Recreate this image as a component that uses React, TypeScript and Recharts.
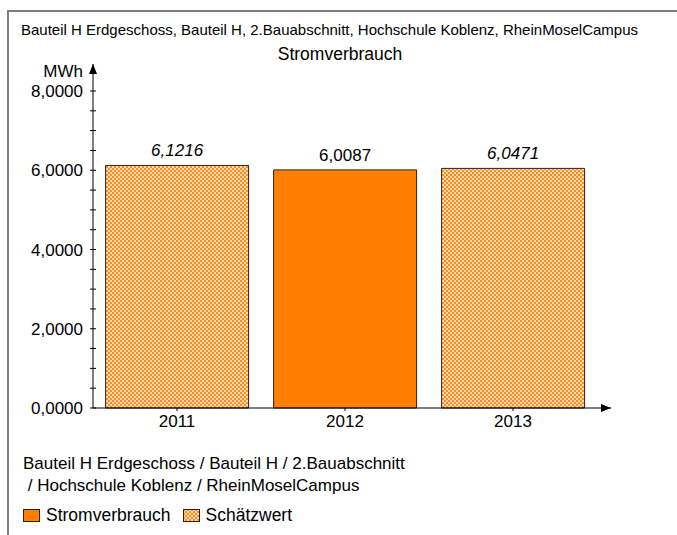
import { BarChart, Bar, XAxis, YAxis, Cell, LabelList } from "recharts";

const years = ["2011", "2012", "2013"];
const consumption = [6.1216, 6.0087, 6.0471];
const estimated = [true, false, true];
const yTicks = [0, 0.5, 1, 1.5, 2, 2.5, 3, 3.5, 4, 4.5, 5, 5.5, 6, 6.5, 7, 7.5, 8];
const labeledTicks = [0, 2, 4, 6, 8];

const headerText = "Bauteil H Erdgeschoss, Bauteil H, 2.Bauabschnitt, Hochschule Koblenz, RheinMoselCampus";
const chartTitle = "Stromverbrauch";
const unitLabel = "MWh";
const legendTitle = ["Bauteil H Erdgeschoss / Bauteil H / 2.Bauabschnitt", " / Hochschule Koblenz / RheinMoselCampus"];
const legendItems = [
  { name: "Stromverbrauch", estimated: false },
  { name: "Schätzwert", estimated: true },
];

const data = years.map((year, i) => ({ year, value: consumption[i], estimated: estimated[i] }));

const ORANGE = "#ff8000";
const FONT = "'Liberation Sans', Arial, sans-serif";
const fmt = (v: number) => v.toFixed(4).replace(".", ",");

function YTick(props: any) {
  const { x, y, payload } = props;
  const v = payload.value as number;
  const axisX = x + 10;
  return (
    <g>
      <line x1={axisX - 3} x2={axisX + 3} y1={y} y2={y} stroke="#000" />
      {labeledTicks.includes(v) && (
        <text x={x} y={y} dy={6} textAnchor="end" fontSize={17} fill="#000" fontFamily={FONT}>
          {fmt(v)}
        </text>
      )}
    </g>
  );
}

function ValueLabel(props: any) {
  const { x, y, width, value, index } = props;
  const i = typeof index === "number" ? index : consumption.indexOf(value);
  return (
    <text
      x={x + width / 2}
      y={y - 9}
      textAnchor="middle"
      fontSize={17}
      fontStyle={estimated[i] ? "italic" : "normal"}
      fill="#000"
      fontFamily={FONT}
    >
      {fmt(value)}
    </text>
  );
}

function Swatch({ hatched }: { hatched: boolean }) {
  return (
    <svg width={17} height={13} style={{ display: "block" }}>
      <defs>
        <pattern id={"sw" + (hatched ? "h" : "s")} width={4} height={4} patternUnits="userSpaceOnUse">
          <rect width={4} height={4} fill="#ffdcb4" />
          <rect width={2} height={2} fill="#ff8c1a" />
          <rect x={2} y={2} width={2} height={2} fill="#ff8c1a" />
        </pattern>
      </defs>
      <rect x={0.5} y={0.5} width={16} height={12} fill={hatched ? "url(#swh)" : ORANGE} stroke="#222" />
    </svg>
  );
}

export default function App() {
  return (
    <div style={{ position: "absolute", left: 0, top: 0, width: 677, height: 535, background: "#fff", fontFamily: FONT, overflow: "hidden" }}>
      <div style={{ position: "absolute", left: 7, top: 10, width: 700, height: 560, borderTop: "2px solid #7f7f7f", borderLeft: "2px solid #7f7f7f" }} />
      <div style={{ position: "absolute", left: 21, top: 21, fontSize: 15, lineHeight: "18px", whiteSpace: "nowrap" }}>{headerText}</div>
      <div style={{ position: "absolute", left: 0, width: 680, top: 44, fontSize: 17.5, lineHeight: "20px", textAlign: "center" }}>{chartTitle}</div>
      <div style={{ position: "absolute", right: 677 - 83, top: 62, fontSize: 17, lineHeight: "20px" }}>{unitLabel}</div>

      <BarChart
        width={677}
        height={535}
        data={data}
        margin={{ top: 64, right: 66, bottom: 97, left: 13 }}
        barCategoryGap="7.5%"
        style={{ position: "absolute", left: 0, top: 0 }}
      >
        <defs>
          <pattern id="checker" width={4} height={4} patternUnits="userSpaceOnUse">
            <rect width={4} height={4} fill="#ffdcb4" />
            <rect width={2} height={2} fill="#ff8c1a" />
            <rect x={2} y={2} width={2} height={2} fill="#ff8c1a" />
          </pattern>
          <marker id="arrowX" viewBox="0 0 10 8" refX={10} refY={4} markerWidth={10} markerHeight={8} markerUnits="userSpaceOnUse" orient="auto">
            <path d="M0,0 L10,4 L0,8 z" fill="#000" />
          </marker>
          <marker id="arrowY" viewBox="0 0 10 8" refX={10} refY={4} markerWidth={10} markerHeight={8} markerUnits="userSpaceOnUse" orient="auto-start-reverse">
            <path d="M0,0 L10,4 L0,8 z" fill="#000" />
          </marker>
        </defs>
        <XAxis
          dataKey="year"
          height={30}
          padding={{ left: 0, right: 14 }}
          axisLine={{ stroke: "#000", markerEnd: "url(#arrowX)" }}
          tickLine={{ stroke: "#000" }}
          tickSize={3}
          tick={{ fill: "#000", fontSize: 17, fontFamily: FONT }}
          tickMargin={4}
        />
        <YAxis
          width={80}
          domain={[0, 8]}
          ticks={yTicks}
          interval={0}
          padding={{ top: 27, bottom: 0 }}
          axisLine={{ stroke: "#000", markerStart: "url(#arrowY)" }}
          tickLine={false}
          tickSize={0}
          tickMargin={10}
          tick={<YTick />}
        />
        <Bar dataKey="value" isAnimationActive={false} stroke="#222" strokeWidth={1}>
          {data.map((d) => (
            <Cell key={d.year} fill={d.estimated ? "url(#checker)" : ORANGE} />
          ))}
          <LabelList dataKey="value" content={<ValueLabel />} />
        </Bar>
      </BarChart>

      <div style={{ position: "absolute", left: 23, top: 453, fontSize: 17, lineHeight: "22px", whiteSpace: "pre" }}>
        {legendTitle[0]}
        <br />
        {legendTitle[1]}
      </div>
      <div style={{ position: "absolute", left: 23, top: 505, display: "flex", alignItems: "center", fontSize: 17.5, lineHeight: "20px" }}>
        {legendItems.map((it) => (
          <div key={it.name} style={{ display: "flex", alignItems: "center", marginRight: 12 }}>
            <Swatch hatched={it.estimated} />
            <span style={{ marginLeft: 6 }}>{it.name}</span>
          </div>
        ))}
      </div>
    </div>
  );
}
